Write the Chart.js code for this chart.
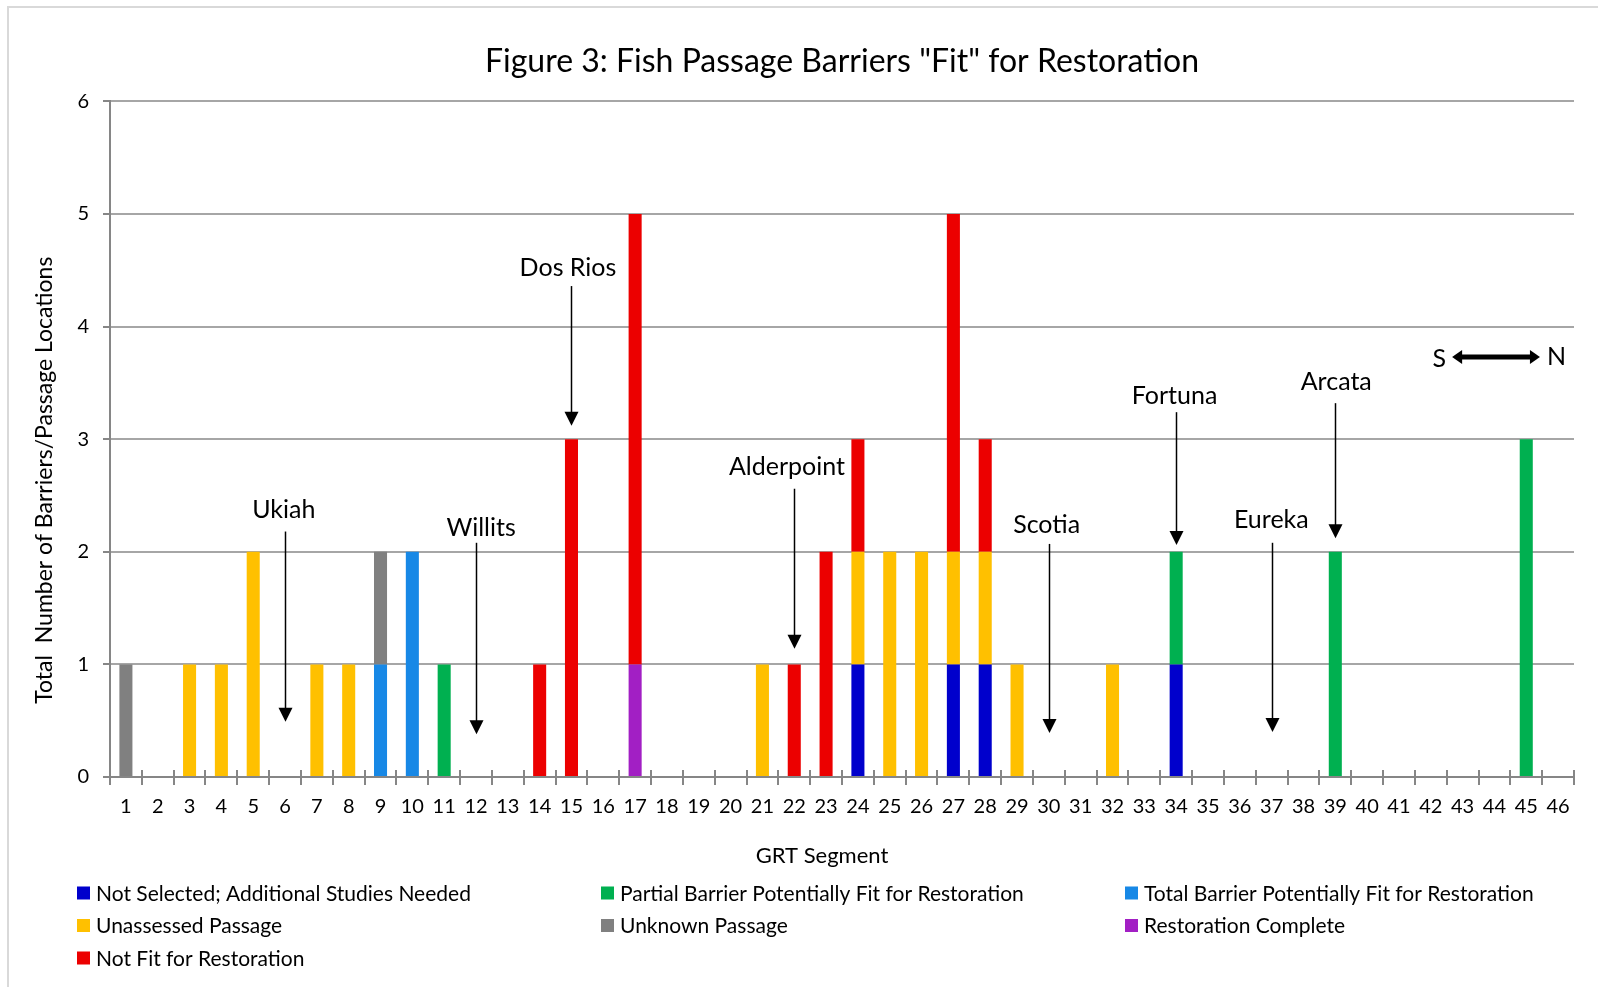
<!DOCTYPE html>
<html>
<head>
<meta charset="utf-8">
<title>Fish Passage Barriers</title>
<script src="https://cdn.jsdelivr.net/npm/chart.js@4.4.1/dist/chart.umd.min.js"></script>
<style>
  html, body { margin: 0; padding: 0; background: #fff; }
  #wrap { position: relative; width: 1598px; height: 987px; }
</style>
</head>
<body>
<div id="wrap"><canvas id="fishChart"></canvas></div>
<script>
const segments = [1, 2, 3, 4, 5, 6, 7, 8, 9, 10, 11, 12, 13, 14, 15, 16, 17, 18, 19, 20, 21, 22, 23,
  24, 25, 26, 27, 28, 29, 30, 31, 32, 33, 34, 35, 36, 37, 38, 39, 40, 41, 42, 43, 44, 45, 46];
const yTicks = [0, 1, 2, 3, 4, 5, 6];

// barrier counts by status: which segments, and how many in each
const notSelectedSeg = [24, 27, 28, 34];
const notSelectedCount = [1, 1, 1, 1];
const partialSeg = [11, 34, 39, 45];
const partialCount = [1, 1, 2, 3];
const totalSeg = [9, 10];
const totalCount = [1, 2];
const unassessedSeg = [3, 4, 5, 7, 8, 21, 24, 25, 26, 27, 28, 29, 32];
const unassessedCount = [1, 1, 2, 1, 1, 1, 1, 2, 2, 1, 1, 1, 1];
const unknownSeg = [1, 9];
const unknownCount = [1, 1];
const completeSeg = [17];
const completeCount = [1];
const notFitSeg = [14, 15, 17, 22, 23, 24, 27, 28];
const notFitCount = [1, 3, 4, 1, 2, 1, 3, 1];

const statusNames = [
  'Not Selected; Additional Studies Needed',
  'Partial Barrier Potentially Fit for Restoration',
  'Total Barrier Potentially Fit for Restoration',
  'Unassessed Passage',
  'Unknown Passage',
  'Restoration Complete',
  'Not Fit for Restoration'
];
const statusColors = ['#0000CC', '#00B050', '#1788E6', '#FFC000', '#808080', '#A21FC4', '#EC0000'];
const statusSegs = [notSelectedSeg, partialSeg, totalSeg, unassessedSeg, unknownSeg, completeSeg, notFitSeg];
const statusCounts = [notSelectedCount, partialCount, totalCount, unassessedCount, unknownCount, completeCount, notFitCount];

// towns along the trail: segment, arrow start and arrow tip (in barrier-count units)
const townNames = ['Ukiah', 'Willits', 'Dos Rios', 'Alderpoint', 'Scotia', 'Fortuna', 'Eureka', 'Arcata'];
const townSegments = [6, 12, 15, 22, 30, 34, 37, 39];
const townArrowTop = [2.18, 2.08, 4.36, 2.56, 2.07, 3.24, 2.08, 3.32];
const townArrowTip = [0.49, 0.38, 3.12, 1.14, 0.39, 2.06, 0.40, 2.12];
// where each town name sits (segment, baseline level)
const townLabelSeg = [5.96, 12.16, 14.89, 21.77, 29.93, 33.95, 36.99, 39.03];
const townLabelLevel = [2.30, 2.14, 4.45, 2.68, 2.17, 3.31, 2.21, 3.44];

// south-north compass arrow
const compassFrom = 42.67;
const compassTo = 45.43;
const compassLevel = 3.73;

const FONT = 'Lato, Calibri, "Open Sans", sans-serif';
const AXIS_GRAY = '#868686';
const GRID_GRAY = '#A6A6A6';

function buildSeries(segs, counts) {
  const out = segments.map(() => null);
  segs.forEach((s, i) => { out[segments.indexOf(s)] = counts[i]; });
  return out;
}

const datasets = statusNames.map((name, i) => ({
  label: name,
  data: buildSeries(statusSegs[i], statusCounts[i]),
  backgroundColor: statusColors[i],
  borderWidth: 0,
  barPercentage: 0.41,
  categoryPercentage: 1.0
}));

function drawArrowDown(ctx, x, yTop, yTip) {
  const head = 14;
  ctx.beginPath();
  ctx.moveTo(x, yTop);
  ctx.lineTo(x, yTip - head + 1);
  ctx.stroke();
  ctx.beginPath();
  ctx.moveTo(x - 7, yTip - head);
  ctx.lineTo(x + 7, yTip - head);
  ctx.lineTo(x, yTip);
  ctx.closePath();
  ctx.fill();
}

const decorations = {
  id: 'decorations',
  beforeDraw(chart) {
    const ctx = chart.ctx;
    ctx.save();
    ctx.fillStyle = '#fff';
    ctx.fillRect(0, 0, chart.width, chart.height);
    // frame around the chart
    ctx.strokeStyle = '#D9D9D9';
    ctx.lineWidth = 2;
    ctx.beginPath();
    ctx.moveTo(8, chart.height);
    ctx.lineTo(8, 7);
    ctx.lineTo(chart.width, 7);
    ctx.stroke();
    ctx.restore();
  },
  afterDraw(chart) {
    const ctx = chart.ctx;
    const xs = chart.scales.x;
    const ys = chart.scales.y;
    const area = chart.chartArea;
    ctx.save();

    // tick marks crossing above the category axis
    ctx.strokeStyle = AXIS_GRAY;
    ctx.lineWidth = 2;
    const half = (xs.getPixelForValue(1) - xs.getPixelForValue(0)) / 2;
    for (let i = 0; i <= segments.length; i++) {
      const x = Math.round(xs.getPixelForValue(i) - half);
      ctx.beginPath();
      ctx.moveTo(x, area.bottom - 7);
      ctx.lineTo(x, area.bottom);
      ctx.stroke();
    }

    // axis titles
    ctx.fillStyle = '#000';
    ctx.textAlign = 'center';
    ctx.textBaseline = 'middle';
    ctx.font = '22px ' + FONT;
    ctx.fillText('GRT Segment', (area.left + area.right) / 2 - 20, area.bottom + 79);
    ctx.font = '23px ' + FONT;
    ctx.save();
    ctx.translate(45, (area.top + area.bottom) / 2 + 41);
    ctx.rotate(-Math.PI / 2);
    ctx.fillText('Total  Number of Barriers/Passage Locations', 0, 0);
    ctx.restore();

    // town markers
    ctx.strokeStyle = '#000';
    ctx.lineWidth = 1.5;
    ctx.font = '25px ' + FONT;
    ctx.textBaseline = 'alphabetic';
    townNames.forEach((name, i) => {
      const x = Math.round(xs.getPixelForValue(townSegments[i] - 1)) + 0.5;
      const yTop = ys.getPixelForValue(townArrowTop[i]);
      const yTip = ys.getPixelForValue(townArrowTip[i]);
      drawArrowDown(ctx, x, yTop, yTip);
      ctx.fillText(name, xs.getPixelForValue(townLabelSeg[i] - 1), ys.getPixelForValue(townLabelLevel[i]));
    });

    // S <-> N arrow
    const x1 = xs.getPixelForValue(compassFrom - 1);
    const x2 = xs.getPixelForValue(compassTo - 1);
    const yc = ys.getPixelForValue(compassLevel);
    ctx.lineWidth = 5;
    ctx.beginPath();
    ctx.moveTo(x1 + 8, yc);
    ctx.lineTo(x2 - 8, yc);
    ctx.stroke();
    ctx.beginPath();
    ctx.moveTo(x1, yc);
    ctx.lineTo(x1 + 10, yc - 7);
    ctx.lineTo(x1 + 10, yc + 7);
    ctx.closePath();
    ctx.fill();
    ctx.beginPath();
    ctx.moveTo(x2, yc);
    ctx.lineTo(x2 - 10, yc - 7);
    ctx.lineTo(x2 - 10, yc + 7);
    ctx.closePath();
    ctx.fill();
    ctx.font = '25px ' + FONT;
    ctx.textBaseline = 'middle';
    ctx.textAlign = 'right';
    ctx.fillText('S', x1 - 6, yc + 2);
    ctx.textAlign = 'left';
    ctx.fillText('N', x2 + 7, yc);

    // legend in three columns
    ctx.font = '21px ' + FONT;
    ctx.textAlign = 'left';
    ctx.textBaseline = 'middle';
    chart.data.datasets.forEach((ds, i) => {
      const col = i % 3;
      const row = Math.floor(i / 3);
      const bx = 77 + col * 524;
      const by = 893 + row * 32.5;
      ctx.fillStyle = ds.backgroundColor;
      ctx.fillRect(bx, by - 6.5, 13, 13);
      ctx.fillStyle = '#000';
      ctx.fillText(ds.label, bx + 19, by + 1);
    });
    ctx.restore();
  }
};

new Chart(document.getElementById('fishChart'), {
  type: 'bar',
  data: { labels: segments, datasets: datasets },
  options: {
    responsive: true,
    maintainAspectRatio: false,
    animation: false,
    layout: { padding: { left: 0, right: 24, top: 0, bottom: 110 } },
    plugins: {
      legend: { display: false },
      tooltip: { enabled: false },
      title: {
        display: true,
        fullSize: false,
        text: 'Figure 3: Fish Passage Barriers "Fit" for Restoration',
        color: '#000',
        font: { family: FONT, size: 32, weight: 'normal' },
        padding: { top: 42, bottom: 21 }
      }
    },
    scales: {
      x: {
        stacked: true,
        afterFit: (scale) => { scale.height = 100; },
        border: { color: AXIS_GRAY, width: 2 },
        grid: { drawOnChartArea: false, drawTicks: true, tickLength: 8, color: AXIS_GRAY, lineWidth: 2 },
        ticks: {
          color: '#000',
          autoSkip: false,
          maxRotation: 0,
          padding: 10,
          font: { family: FONT, size: 20 }
        }
      },
      y: {
        stacked: true,
        min: 0,
        max: 6,
        afterFit: (scale) => { scale.width = 110; },
        afterBuildTicks: (scale) => { scale.ticks = yTicks.map(v => ({ value: v })); },
        border: { color: AXIS_GRAY, width: 2 },
        grid: { color: GRID_GRAY, lineWidth: 2, tickLength: 7, tickColor: AXIS_GRAY },
        ticks: {
          color: '#000',
          padding: 14,
          font: { family: FONT, size: 20 }
        }
      }
    }
  },
  plugins: [decorations]
});
</script>
</body>
</html>
